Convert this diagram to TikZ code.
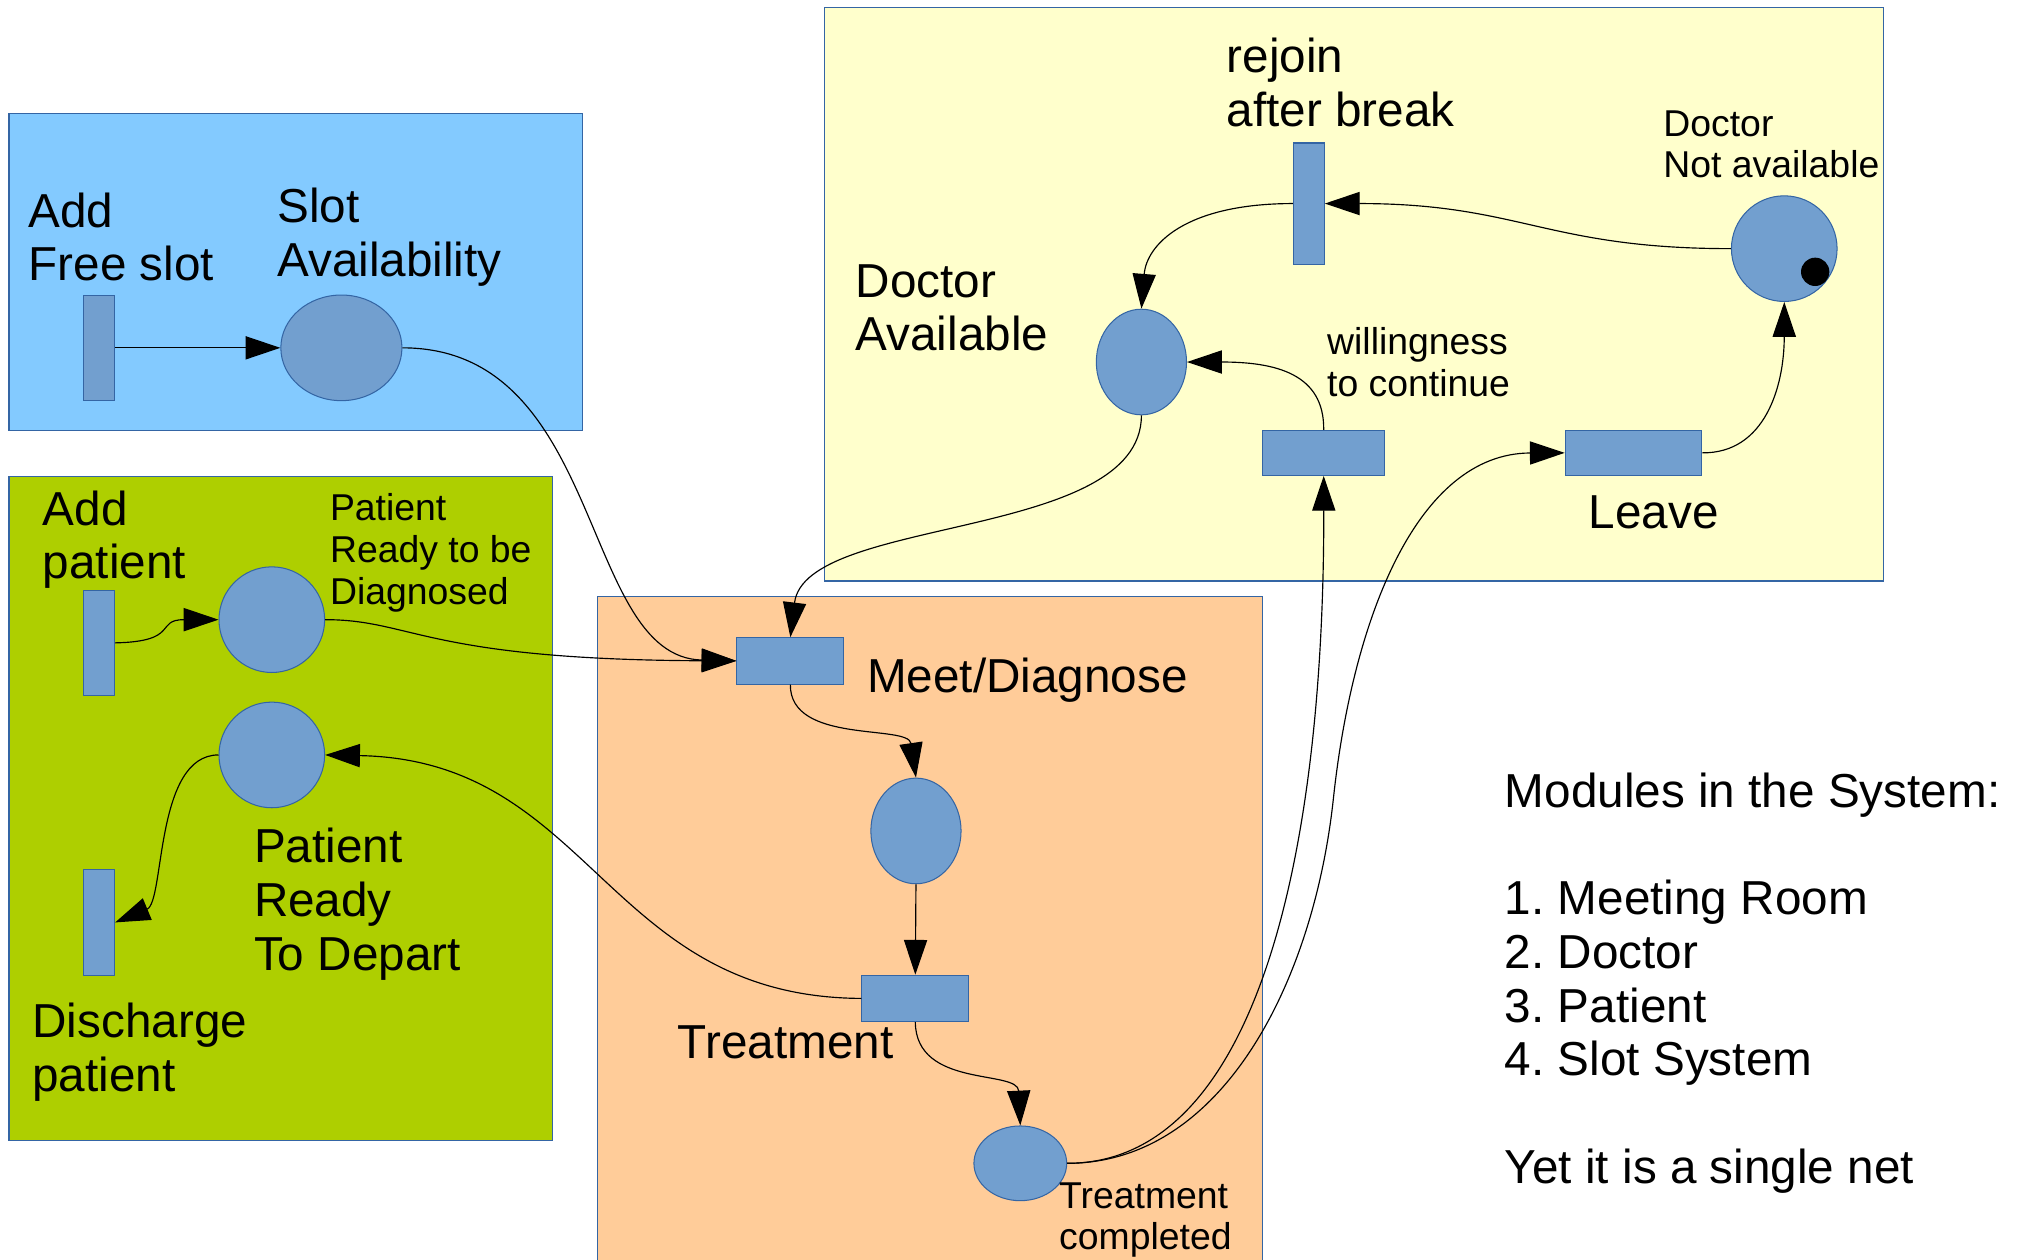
\documentclass[tikz,border=0pt]{standalone}
\usepackage{fontspec}
\setmainfont{Liberation Sans}
\usetikzlibrary{arrows.meta,shapes.geometric}
\definecolor{slotbg}{HTML}{83CAFF}
\definecolor{patbg}{HTML}{AECF00}
\definecolor{meetbg}{HTML}{FFCC99}
\definecolor{docbg}{HTML}{FFFFCC}
\definecolor{nodefill}{HTML}{729FCF}
\definecolor{nodeline}{HTML}{3465A4}
\frenchspacing
\begin{document}
\begin{tikzpicture}[x=1pt,y=-1pt,
  region/.style={draw=nodeline, line width=0.9pt},
  trans/.style={rectangle, draw=nodeline, fill=nodefill, line width=0.8pt, inner sep=0pt, minimum width=#1},
  place/.style={ellipse, draw=nodeline, fill=nodefill, line width=0.8pt, inner sep=0pt},
  arc/.style={-{Triangle[length=27pt,width=18pt]}, line width=0.9pt, black},
  bigtxt/.style={font=\fontsize{37}{41.7}\selectfont\frenchspacing, align=left, inner sep=0pt, anchor=west},
  smalltxt/.style={font=\fontsize{29}{32.5}\selectfont\frenchspacing, align=left, inner sep=0pt, anchor=west}
]
\useasboundingbox (0,0) rectangle (1568,978);
\fill[white] (0,0) rectangle (1568,978);

% regions
\filldraw[region, fill=slotbg] (7,88) rectangle (452,334);
\filldraw[region, fill=patbg] (7,370) rectangle (429,885);
\filldraw[region, fill=meetbg] (464,463) rectangle (980,990);
\filldraw[region, fill=docbg] (640,6) rectangle (1462,451);

% transitions
\node[trans=24pt, minimum height=82pt] (addslot) at (77,270) {};
\node[trans=24pt, minimum height=82pt] (addpat) at (77,499) {};
\node[trans=24pt, minimum height=82pt] (discharge) at (77,716) {};
\node[trans=83pt, minimum height=36pt] (meet) at (613.5,513) {};
\node[trans=83pt, minimum height=36pt] (treat) at (710.5,775) {};
\node[trans=24pt, minimum height=94pt] (rejoin) at (1016,158) {};
\node[trans=95pt, minimum height=35pt] (willing) at (1027.5,351.5) {};
\node[trans=106pt, minimum height=35pt] (leave) at (1268,351.5) {};

% places
\node[place, minimum width=94pt, minimum height=82pt] (slot) at (265,270) {};
\node[place, minimum width=82pt, minimum height=82pt] (readydiag) at (211,481) {};
\node[place, minimum width=82pt, minimum height=82pt] (readydep) at (211,586) {};
\node[place, minimum width=70pt, minimum height=82pt] (mid) at (711,645) {};
\node[place, minimum width=72pt, minimum height=58pt] (done) at (792,903) {};
\node[place, minimum width=70pt, minimum height=82pt] (docav) at (886,281) {};
\node[place, minimum width=82pt, minimum height=82pt] (docna) at (1385,193) {};
\node[circle, fill=black, inner sep=0pt, minimum size=22pt] (token) at (1409,211) {};

% labels
\node[bigtxt] (lAddSlot) at (22,184) {Add\\Free slot};
\node[bigtxt] (lSlot) at (215,184) {Slot\\Availability};
\node[bigtxt] (lAddPat) at (33,419) {Add\\patient};
\node[smalltxt] (lReadyDiag) at (256,429) {Patient\\Ready to be\\Diagnosed};
\node[bigtxt] (lReadyDep) at (197,702) {Patient\\Ready\\To Depart};
\node[bigtxt] (lDischarge) at (25,817) {Discharge\\patient};
\node[bigtxt] (lMeet) at (673,528) {Meet/Diagnose};
\node[bigtxt] (lTreat) at (526,809) {Treatment};
\node[smalltxt] (lDone) at (822,947) {Treatment\\completed};
\node[bigtxt] (lDocAv) at (664,239) {Doctor\\Available};
\node[bigtxt] (lRejoin) at (952,64) {rejoin\\after break};
\node[smalltxt] (lDocNA) at (1291,112) {Doctor\\Not available};
\node[smalltxt] (lWilling) at (1030,281) {willingness\\to continue};
\node[bigtxt] (lLeave) at (1233,398) {Leave};
\node[bigtxt] (lModules) at (1168,763) {Modules in the System:\\ \\1. Meeting Room\\2. Doctor\\3. Patient\\4. Slot System\\ \\Yet it is a single net};

% arcs
\draw[arc] (addslot.east) -- (slot.west);
\draw[arc] (slot.east) .. controls (470,270) and (450,510) .. (meet.west);
\draw[arc] (addpat.east) .. controls (140,498) and (120,481) .. (readydiag.west);
\draw[arc] (readydiag.east) .. controls (320,481) and (330,512) .. (meet.west);
\draw[arc] (docav.south) .. controls (886,420) and (625,400) .. (meet.north);
\draw[arc] (meet.south) .. controls (613,578) and (705,562) .. (mid.north);
\draw[arc] (mid.south) -- (treat.north);
\draw[arc] (treat.south) .. controls (711,845) and (790,830) .. (done.north);
\draw[arc] (treat.west) .. controls (470,774) and (460,590) .. (readydep.east);
\draw[arc] (readydep.west) .. controls (120,586) and (128,700) .. (discharge.east);
\draw[arc] (done.east) .. controls (980,903) and (1028,650) .. (willing.south);
\draw[arc] (done.east) .. controls (950,903) and (1020,760) .. (1035,620)
  .. controls (1050,480) and (1100,352) .. (leave.west);
\draw[arc] (willing.north) .. controls (1028,290) and (990,281) .. (docav.east);
\draw[arc] (leave.east) .. controls (1370,352) and (1385,300) .. (docna.south);
\draw[arc] (docna.west) .. controls (1200,193) and (1180,158) .. (rejoin.east);
\draw[arc] (rejoin.west) .. controls (920,158) and (890,190) .. (docav.north);
\end{tikzpicture}
\end{document}
